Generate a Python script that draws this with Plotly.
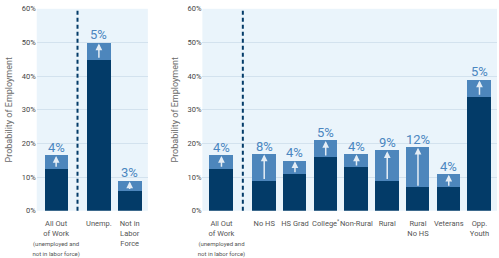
import plotly.graph_objects as go

# ---------------- data ----------------
left_categories = [
    "All Out<br>of Work<br><span style='font-size:6px'>(unemployed and<br>not in labor force)</span>",
    "Unemp.",
    "Not in<br>Labor<br>Force",
]
left_base = [12.6, 45.0, 6.0]
left_total = [16.6, 50.0, 9.0]
left_labels = ["4%", "5%", "3%"]

right_categories = [
    "All Out<br>of Work<br><span style='font-size:6px'>(unemployed and<br>not in labor force)</span>",
    "No HS", "HS Grad", "College<sup>*</sup>", "Non-Rural", "Rural",
    "Rural<br>No HS", "Veterans", "Opp.<br>Youth",
]
right_base = [12.6, 9.0, 11.0, 16.0, 13.0, 9.0, 7.0, 7.0, 34.0]
right_total = [16.6, 17.0, 15.0, 21.0, 17.0, 18.0, 19.0, 11.0, 39.0]
right_labels = ["4%", "8%", "4%", "5%", "4%", "9%", "12%", "4%", "5%"]

y_ticks = [0, 10, 20, 30, 40, 50, 60]
y_ticktext = [f"{v}%" for v in y_ticks]

# ---------------- style ----------------
DARK = "#033b68"
LIGHT = "#4d86bc"
LABEL = "#4a86c0"
BG = "#eaf4fb"
GRID = "#d3e2ee"
FONT = "Roboto, sans-serif"
GAP = 1.39
BW = 0.76


def positions(n):
    return [0.0] + [GAP + i for i in range(n - 1)]


fig = go.Figure()


def add_panel(cats, base, total, labels, xa, ya):
    xs = positions(len(cats))
    top = [t - b for t, b in zip(total, base)]
    fig.add_trace(go.Bar(x=xs, y=base, width=BW, marker=dict(color=DARK, line_width=0),
                         xaxis=xa, yaxis=ya, showlegend=False, hoverinfo="skip"))
    fig.add_trace(go.Bar(x=xs, y=top, width=BW, marker=dict(color=LIGHT, line_width=0),
                         xaxis=xa, yaxis=ya, showlegend=False, hoverinfo="skip"))
    xr = "x" if xa == "x" else "x2"
    yr = "y" if ya == "y" else "y2"
    for x, b, t, lab in zip(xs, base, total, labels):
        fig.add_annotation(x=x, y=t, ax=x, ay=b, xref=xr, yref=yr, axref=xr, ayref=yr,
                           showarrow=True, arrowhead=2, arrowsize=0.9, arrowwidth=1.5,
                           arrowcolor="rgba(255,255,255,0.85)", text="", standoff=1)
        fig.add_annotation(x=x, y=t, xref=xr, yref=yr, text=lab, showarrow=False,
                           yanchor="bottom", yshift=-2,
                           font=dict(family=FONT, size=13, color=LABEL))
    fig.add_shape(type="line", xref=xr, yref=yr + " domain", x0=GAP / 2, x1=GAP / 2,
                  y0=0, y1=1, line=dict(color=DARK, width=2, dash="4px,3px"))
    return xs


lx = add_panel(left_categories, left_base, left_total, left_labels, "x", "y")
rx = add_panel(right_categories, right_base, right_total, right_labels, "x2", "y2")

W, H = 499, 258
ydom = [(H - 216) / H, (H - 5) / H]

xcommon = dict(showgrid=False, zeroline=False, showline=False, ticks="", tickangle=0,
               tickmode="array", ticklabelstandoff=7,
               tickfont=dict(family=FONT, size=7.5, color="#555555"), fixedrange=True)
ycommon = dict(range=[0, 60], tickmode="array", tickvals=y_ticks, ticktext=y_ticktext,
               showgrid=True, gridcolor=GRID, gridwidth=1, zeroline=False, showline=False,
               tickfont=dict(family=FONT, size=7.5, color="#444444"), domain=ydom,
               title=dict(text="Probability of Employment",
                          font=dict(family=FONT, size=9, color="#6a6a6a"), standoff=7))

fig.update_layout(
    width=W, height=H, autosize=False,
    margin=dict(l=0, r=0, t=0, b=0),
    paper_bgcolor="white", plot_bgcolor=BG,
    barmode="stack", bargap=0,
    xaxis=dict(domain=[33 / W, 145 / W], range=[-0.63, 2.98], tickvals=lx,
               ticktext=left_categories, **xcommon),
    xaxis2=dict(domain=[200 / W, 497 / W], range=[-0.62, 8.96], tickvals=rx,
                ticktext=right_categories, anchor="y2", **xcommon),
    yaxis=dict(anchor="x", **ycommon),
    yaxis2=dict(anchor="x2", **ycommon),
)

fig.write_html("out.html")
